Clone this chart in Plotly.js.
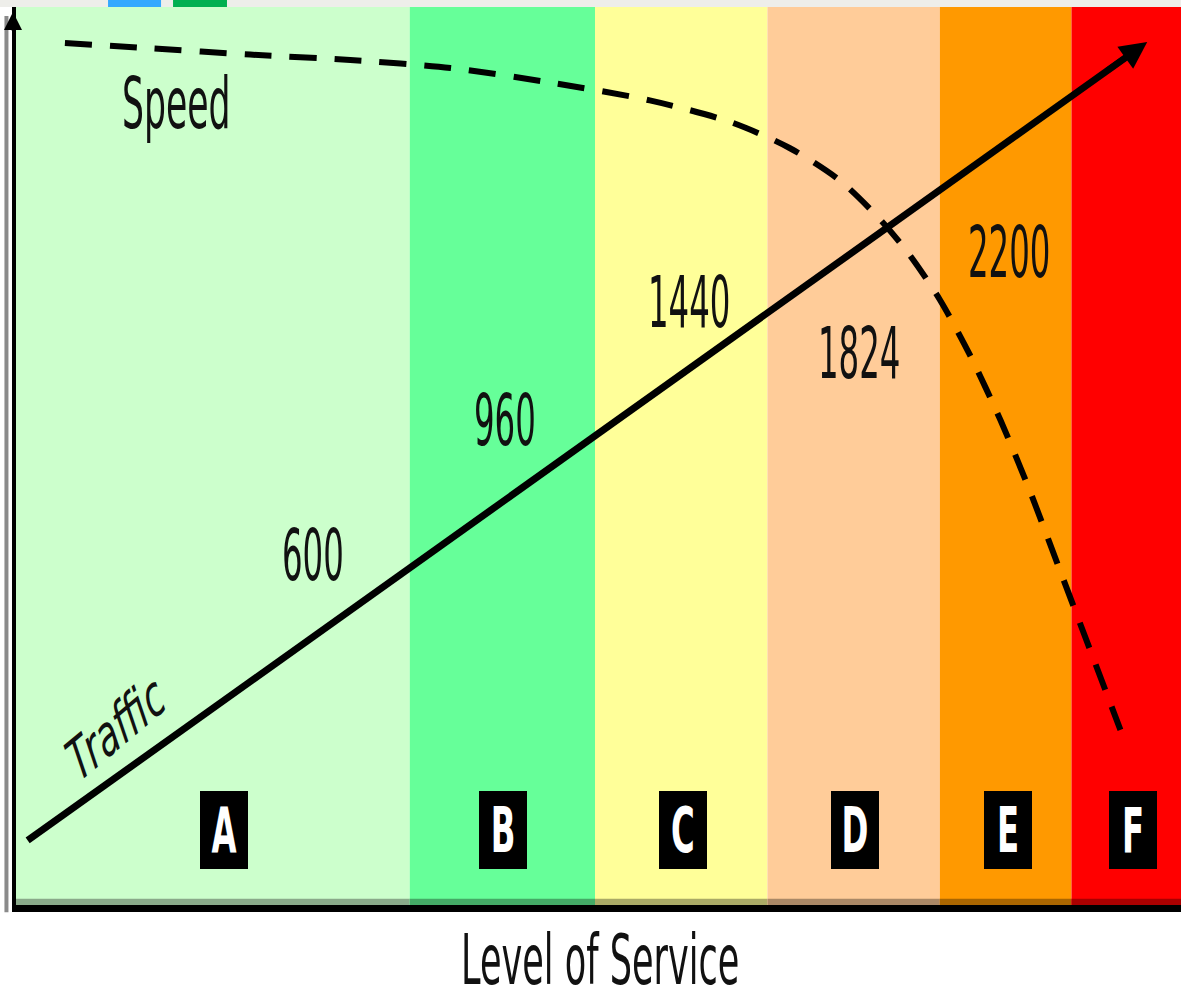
<!DOCTYPE html>
<html>
<head>
<meta charset="utf-8">
<script src="https://cdn.plot.ly/plotly-3.0.1.min.js"></script>
<style>html,body{margin:0;padding:0;background:#fff;}#chart{width:1181px;height:1001px;}</style>
</head>
<body>
<div id="chart"></div>
<script>
// ---- data (schematic units: x 0-100 across, y 0-100 up) ----
const levels = ["A", "B", "C", "D", "E", "F"];
const bandEdges = [0, 33.8, 49.7, 64.5, 79.3, 90.6, 100];
const letterX = [17.85, 41.8, 57.25, 72.0, 85.15, 95.9];
const letterY = 8.35;

const trafficX = [1.0, 95.5];
const trafficY = [7.2, 94.6];
const trafficTip = [97.1, 96.1];

const speedX = [4.2, 11.5, 20.1, 28.7, 37.3, 45.8, 54.4, 61.3, 66.4, 70.7, 74.2, 76.7, 79.3, 81.9, 84.5, 87.0, 89.6, 92.2, 94.8];
const speedY = [96.0, 95.4, 94.7, 94.1, 93.2, 91.6, 89.6, 87.2, 84.3, 80.7, 76.3, 72.4, 67.4, 61.2, 54.0, 46.2, 37.3, 28.4, 19.5];

const volumeLabels = ["600", "960", "1440", "1824", "2200"];
const volumeX = [25.5, 42.0, 57.8, 72.4, 85.2];
const volumeY = [38.9, 53.9, 67.1, 61.4, 72.7];

const speedLabel = {text: "Speed", x: 13.8, y: 89.4};
const trafficLabel = {text: "Traffic", x: 8.5, y: 19.7};
const xTitle = "Level of Service";

// ---- styles ----
const bandColors = ["#ccffcc", "#66ff99", "#ffff99", "#ffcc99", "#ff9900", "#ff0000"];
const bandDark = ["#8aaa8a", "#44aa66", "#aaaa66", "#aa8866", "#aa6600", "#aa0000"];
const FONT = "'Liberation Sans Narrow', 'Arial Narrow', 'DejaVu Sans Condensed', 'Liberation Sans', sans-serif";

const shapes = [];
for (let i = 0; i < levels.length; i++) {
  shapes.push({type: "rect", xref: "x", yref: "y", x0: bandEdges[i], x1: bandEdges[i + 1], y0: 0, y1: 100,
    fillcolor: bandColors[i], line: {width: 0}, layer: "below"});
  shapes.push({type: "rect", xref: "x", yref: "y", x0: bandEdges[i], x1: bandEdges[i + 1], y0: 0, y1: 0.7,
    fillcolor: bandDark[i], line: {width: 0}, layer: "below"});
}
// top strip decoration
shapes.push({type: "rect", xref: "paper", yref: "paper", x0: -0.0137, x1: 1, y0: 1, y1: 1.0078, fillcolor: "#eeeeea", line: {width: 0}});
shapes.push({type: "rect", xref: "paper", yref: "paper", x0: 0.079, x1: 0.1245, y0: 1, y1: 1.0078, fillcolor: "#33a8ff", line: {width: 0}});
shapes.push({type: "rect", xref: "paper", yref: "paper", x0: 0.1348, x1: 0.1811, y0: 1, y1: 1.0078, fillcolor: "#00b050", line: {width: 0}});
// gray edge beside y axis
shapes.push({type: "line", xref: "paper", yref: "paper", x0: -0.0082, x1: -0.0082, y0: -0.008, y1: 0.99, line: {color: "#8a8a8a", width: 4}});

const annotations = [];
const stretch = [];
const skew = [];
volumeLabels.forEach((t, i) => {
  annotations.push({text: t, x: volumeX[i], y: volumeY[i], xref: "x", yref: "y", showarrow: false,
    font: {family: FONT, size: 36, color: "#111"}});
  stretch.push(2.0); skew.push(0);
});
annotations.push({text: speedLabel.text, x: speedLabel.x, y: speedLabel.y, xref: "x", yref: "y", showarrow: false,
  font: {family: FONT, size: 38.5, color: "#111"}});
stretch.push(1.87); skew.push(0);
annotations.push({text: trafficLabel.text, x: trafficLabel.x, y: trafficLabel.y, xref: "x", yref: "y", showarrow: false,
  textangle: -40, font: {family: FONT, size: 42, color: "#111", style: "italic"}});
stretch.push(1.25); skew.push(-14);
levels.forEach((t, i) => {
  annotations.push({text: t, x: letterX[i], y: letterY, xref: "x", yref: "y", showarrow: false,
    width: 46, height: 76, bgcolor: "#000", bordercolor: "#000", borderpad: 0,
    font: {family: FONT, size: 36, color: "#fff", weight: "bold"}});
  stretch.push(1.75); skew.push(0);
});
annotations.push({text: xTitle, x: 0.501, y: -0.0885, xref: "paper", yref: "paper", showarrow: false,
  font: {family: FONT, size: 39, color: "#111"}});
stretch.push(1.8); skew.push(0);
// arrowhead of the traffic line
annotations.push({text: "", x: trafficTip[0], y: trafficTip[1], xref: "x", yref: "y",
  ax: trafficX[1] - 2, ay: trafficY[1] - 1.85, axref: "x", ayref: "y",
  showarrow: true, arrowhead: 2, arrowsize: 0.9, arrowwidth: 6, arrowcolor: "#000", standoff: 0});
stretch.push(1); skew.push(0);
// arrowhead of the y axis
annotations.push({text: "", x: -0.0026, y: 0.9944, xref: "paper", yref: "paper", ax: 0, ay: 20,
  showarrow: true, arrowhead: 2, arrowsize: 1.2, arrowwidth: 3, arrowcolor: "#000", standoff: 0});
stretch.push(1); skew.push(0);

const data = [
  {x: trafficX, y: trafficY, type: "scatter", mode: "lines", line: {color: "#000", width: 7}, hoverinfo: "skip"},
  {x: speedX, y: speedY, type: "scatter", mode: "lines", line: {color: "#000", width: 6, dash: "27px,18px", shape: "spline", smoothing: 0.8}, hoverinfo: "skip"}
];

const layout = {
  width: 1181, height: 1001,
  margin: {l: 16, r: 0, t: 7, b: 96, pad: 0},
  paper_bgcolor: "#ffffff", plot_bgcolor: "rgba(0,0,0,0)",
  showlegend: false,
  xaxis: {range: [0, 100], showgrid: false, zeroline: false, showticklabels: false, ticks: "",
    showline: true, linecolor: "#000", linewidth: 7, fixedrange: true},
  yaxis: {range: [0, 100], showgrid: false, zeroline: false, showticklabels: false, ticks: "",
    showline: true, linecolor: "#000", linewidth: 4, fixedrange: true},
  shapes: shapes,
  annotations: annotations
};

Plotly.newPlot("chart", data, layout, {staticPlot: true, displayModeBar: false}).then(() => {
  document.querySelectorAll("#chart g.annotation").forEach(g => {
    const idx = +g.getAttribute("data-index");
    const s = stretch[idx], k = skew[idx];
    if ((!s || s === 1) && !k) return;
    const t = g.querySelector("text.annotation-text");
    if (!t) return;
    const bb = t.getBBox();
    const cx = bb.x + bb.width / 2, cy = bb.y + bb.height / 2;
    t.setAttribute("transform", `translate(${cx},${cy}) skewX(${k || 0}) scale(1,${s || 1}) translate(${-cx},${-cy})`);
  });
});
</script>
</body>
</html>
